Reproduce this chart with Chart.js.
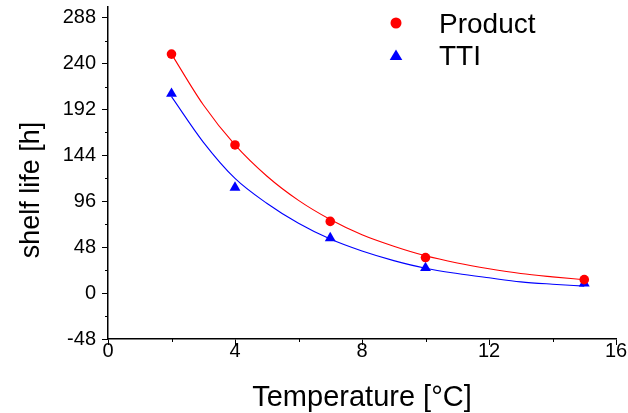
<!DOCTYPE html>
<html><head><meta charset="utf-8">
<script src="https://cdn.jsdelivr.net/npm/chart.js@4.4.1/dist/chart.umd.min.js"></script>
<style>html,body{margin:0;padding:0;background:#fff}canvas{display:block}</style>
</head><body>
<canvas id="c" width="628" height="413"></canvas>
<script>
const FONT = '"Liberation Sans", Arial, Helvetica, sans-serif';

// measured data
const temperatures = [2, 4, 7, 10, 15];
const productShelfLife = [250, 155, 75, 37.2, 14.1];
const ttiShelfLife = [208.6, 110.4, 57.6, 26.3, 10.2];

// fitted curves
const fitTemperatures = [2, 3, 4, 5, 6, 7, 8, 9, 10, 11, 12, 13, 14, 15];
const productFit = [250, 197, 155, 122.5, 97, 77, 61, 49, 39, 31.5, 25.5, 20.5, 17, 14];
const ttiFit = [205.5, 158, 120, 94, 73, 56.5, 44, 34, 26, 20.5, 16, 11.8, 9.3, 7.3];

const seriesNames = ['Product', 'TTI'];
const yTicks = [-48, 0, 48, 96, 144, 192, 240, 288];
const yMinorTicks = [-24, 24, 72, 120, 168, 216, 264];
const xTicks = [0, 4, 8, 12, 16];
const xMinorTicks = [2, 6, 10, 14];
const xTitle = 'Temperature [°C]';
const yTitle = 'shelf life [h]';

const RED = '#ff0000', BLUE = '#0000ff';

const toXY = (xs, ys) => xs.map((x, i) => ({x, y: ys[i]}));

const extras = {
  id: 'extras',
  afterDraw(chart) {
    const ctx = chart.ctx;
    const xs = chart.scales.x, ys = chart.scales.y;
    ctx.save();
    // minor ticks
    ctx.strokeStyle = '#000';
    ctx.lineWidth = 1;
    ctx.beginPath();
    yMinorTicks.forEach(v => {
      const p = Math.round(ys.getPixelForValue(v)) + 0.5;
      ctx.moveTo(chart.chartArea.left - 3, p);
      ctx.lineTo(chart.chartArea.left, p);
    });
    xMinorTicks.forEach(v => {
      const p = Math.round(xs.getPixelForValue(v)) + 0.5;
      ctx.moveTo(p, chart.chartArea.bottom);
      ctx.lineTo(p, chart.chartArea.bottom + 3);
    });
    ctx.stroke();
    // y title
    ctx.save();
    ctx.translate(38.5, 190);
    ctx.rotate(-Math.PI / 2);
    ctx.font = '27px ' + FONT;
    ctx.fillStyle = '#000';
    ctx.textAlign = 'center';
    ctx.textBaseline = 'alphabetic';
    ctx.fillText(yTitle, 0, 0);
    ctx.restore();
    // legend
    ctx.font = '28px ' + FONT;
    ctx.fillStyle = '#000';
    ctx.textAlign = 'left';
    ctx.textBaseline = 'alphabetic';
    ctx.fillText(seriesNames[0], 439, 32.5);
    ctx.fillText(seriesNames[1], 439, 64.5);
    ctx.fillStyle = RED;
    ctx.beginPath();
    ctx.arc(396, 23, 5.5, 0, Math.PI * 2);
    ctx.fill();
    ctx.fillStyle = BLUE;
    ctx.beginPath();
    ctx.moveTo(396, 49.5);
    ctx.lineTo(402.3, 60);
    ctx.lineTo(389.7, 60);
    ctx.closePath();
    ctx.fill();
    ctx.restore();
  }
};

new Chart(document.getElementById('c'), {
  type: 'scatter',
  data: {
    datasets: [
      {label: seriesNames[0], data: toXY(temperatures, productShelfLife), pointStyle: 'circle',
       pointRadius: 4.8, pointBackgroundColor: RED, pointBorderColor: RED, borderWidth: 0, pointBorderWidth: 0, showLine: false, order: 0},
      {label: seriesNames[1], data: toXY(temperatures, ttiShelfLife), pointStyle: 'triangle',
       pointRadius: 6.3, pointBackgroundColor: BLUE, pointBorderColor: BLUE, pointBorderWidth: 0, showLine: false, order: 0},
      {label: seriesNames[0] + ' fit', data: toXY(fitTemperatures, productFit), showLine: true, pointRadius: 0,
       borderColor: RED, borderWidth: 1.1, cubicInterpolationMode: 'monotone', order: 1},
      {label: seriesNames[1] + ' fit', data: toXY(fitTemperatures, ttiFit), showLine: true, pointRadius: 0,
       borderColor: BLUE, borderWidth: 1.1, cubicInterpolationMode: 'monotone', order: 1}
    ]
  },
  options: {
    responsive: false,
    animation: false,
    devicePixelRatio: 1,
    layout: {padding: {left: 0, right: 12, top: 5, bottom: 0}},
    plugins: {legend: {display: false}, tooltip: {enabled: false}},
    scales: {
      x: {
        type: 'linear', min: 0, max: 16,
        afterBuildTicks: s => { s.ticks = xTicks.map(v => ({value: v})); },
        afterFit: s => { s.height = 74; s.paddingLeft = 0; s.paddingRight = 0; },
        grid: {display: true, drawOnChartArea: false, drawTicks: true, tickLength: 6, tickColor: '#000', tickWidth: 1},
        border: {display: true, color: '#000', width: 1.5},
        ticks: {color: '#000', font: {family: FONT, size: 20, lineHeight: 1}, padding: -4, maxRotation: 0},
        title: {display: true, text: xTitle, color: '#000', font: {family: FONT, size: 29, lineHeight: 1}, padding: {top: 0, bottom: 1}}
      },
      y: {
        type: 'linear', min: -48, max: 300,
        afterBuildTicks: s => { s.ticks = yTicks.map(v => ({value: v})); },
        afterFit: s => { s.width = 108; s.paddingTop = 0; s.paddingBottom = 0; },
        grid: {display: true, drawOnChartArea: false, drawTicks: true, tickLength: 6, tickColor: '#000', tickWidth: 1},
        border: {display: true, color: '#000', width: 1.5},
        ticks: {color: '#000', font: {family: FONT, size: 20}, padding: 6}
      }
    }
  },
  plugins: [extras]
});
</script>
</body></html>
